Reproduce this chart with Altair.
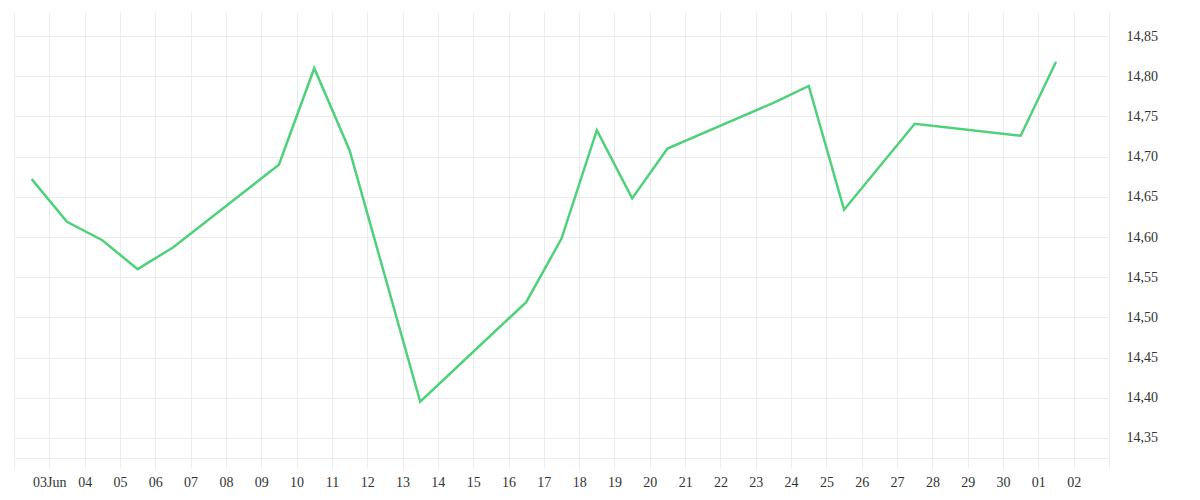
import altair as alt
import pandas as pd

dates = ["2023-06-02T12:00:00Z", "2023-06-03T12:00:00Z", "2023-06-04T12:00:00Z",
         "2023-06-05T12:00:00Z", "2023-06-06T12:00:00Z", "2023-06-09T12:00:00Z",
         "2023-06-10T12:00:00Z", "2023-06-11T12:00:00Z", "2023-06-13T12:00:00Z",
         "2023-06-16T12:00:00Z", "2023-06-17T12:00:00Z", "2023-06-18T12:00:00Z",
         "2023-06-19T12:00:00Z", "2023-06-20T12:00:00Z", "2023-06-23T12:00:00Z",
         "2023-06-24T12:00:00Z", "2023-06-25T12:00:00Z", "2023-06-27T12:00:00Z",
         "2023-06-30T12:00:00Z", "2023-07-01T12:00:00Z"]
values = [14.672, 14.619, 14.596, 14.560, 14.587, 14.690,
          14.810, 14.708, 14.395, 14.519, 14.598, 14.733,
          14.648, 14.710, 14.767, 14.788, 14.634, 14.741,
          14.726, 14.818]
y_ticks = [14.35, 14.40, 14.45, 14.50, 14.55, 14.60, 14.65, 14.70, 14.75, 14.80, 14.85]

df = pd.DataFrame({"date": dates, "value": values})

x_ticks = [alt.DateTime(year=2023, month=6, date=d, utc=True) for d in range(2, 31)] + \
          [alt.DateTime(year=2023, month=7, date=d, utc=True) for d in range(1, 4)]

font = "Liberation Serif"
grid = "#ececec"

label_x = ("(utcmonth(datum.value)==5 && utcdate(datum.value)==2) || "
           "(utcmonth(datum.value)==6 && utcdate(datum.value)==3) ? '' : "
           "(utcmonth(datum.value)==5 && utcdate(datum.value)==3 ? '03Jun' : "
           "utcFormat(datum.value, '%d'))")

chart = alt.Chart(df).mark_line(color="#4ed17a", strokeWidth=2.5).encode(
    x=alt.X("date:T",
            scale=alt.Scale(type="utc",
                            domain=[alt.DateTime(year=2023, month=6, date=2, utc=True),
                                    alt.DateTime(year=2023, month=7, date=3, utc=True)]),
            axis=alt.Axis(values=x_ticks, labelExpr=label_x, title=None,
                          grid=True, gridColor=grid, domainColor=grid,
                          tickColor=grid, tickSize=10, labelPadding=7,
                          labelFont=font, labelFontSize=14, labelColor="#333",
                          labelAngle=0, labelOverlap=False)),
    y=alt.Y("value:Q",
            scale=alt.Scale(domain=[14.325, 14.88], nice=False, zero=False),
            axis=alt.Axis(orient="right", values=y_ticks, title=None,
                          labelExpr="replace(format(datum.value, '.2f'), '.', ',')",
                          grid=True, gridColor=grid, domainColor=grid,
                          ticks=False, labelPadding=17, labelAlign="left",
                          labelFont=font, labelFontSize=14, labelColor="#333")),
).properties(
    width=1095, height=446,
    padding={"left": 5, "top": 4, "right": 5, "bottom": 5},
).configure_view(stroke=None)

chart.save("out.html", embed_options={"renderer": "svg", "actions": False})
